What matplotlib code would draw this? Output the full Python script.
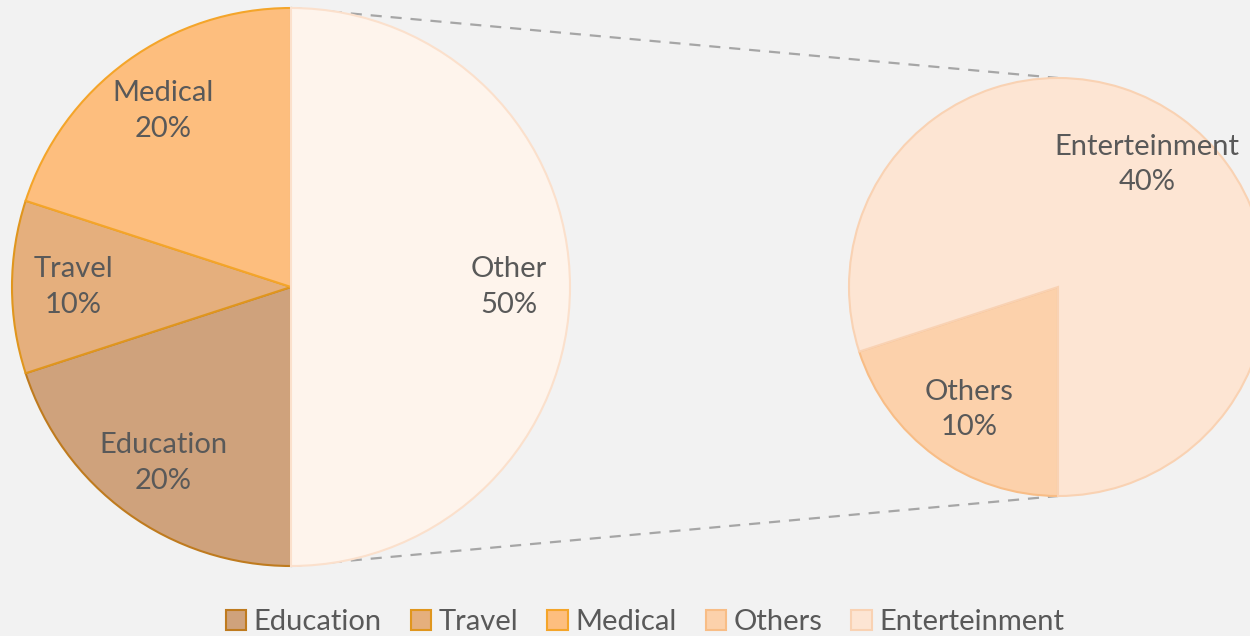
import matplotlib.pyplot as plt
from matplotlib.patches import Patch

# data
main_labels = ['Education', 'Travel', 'Medical', 'Other']
main_values = [20, 10, 20, 50]
sub_labels = ['Others', 'Enterteinment']
sub_values = [10, 40]
total = sum(main_values)

main_colors = ['#CFA27C', '#E5AF7D', '#FDBE7E', '#FEF4EC']
main_edges = ['#BF7B1F', '#E0961E', '#F4A52A', '#FBE0CC']
sub_colors = ['#FCD1AB', '#FDE5D3']
sub_edges = ['#F8BD86', '#F9D2B3']

plt.rcParams['font.family'] = ['Lato', 'DejaVu Sans']
text_color = '#595959'

fig = plt.figure(figsize=(12.5, 6.36), dpi=100, facecolor='#F2F2F2')
ax = fig.add_axes([0, 0, 1, 1])
ax.set_facecolor('#F2F2F2')

c1, r1 = (291, 349), 279
c2, r2 = (1058, 349), 209

# connector lines (behind pies)
ax.plot([c1[0], c2[0]], [c1[1] + r1, c2[1] + r2], ls=(0, (5, 4)), color='#A6A6A6', lw=1.6, zorder=0)
ax.plot([c1[0], c2[0]], [c1[1] - r1, c2[1] - r2], ls=(0, (5, 4)), color='#A6A6A6', lw=1.6, zorder=0)

tprops = dict(color=text_color, fontsize=21, linespacing=1.45)

lab1 = [f'{n}\n{v / total * 100:.0f}%' for n, v in zip(main_labels, main_values)]
w1, t1 = ax.pie(main_values, labels=lab1, colors=main_colors, startangle=270, counterclock=False,
                center=c1, radius=r1, labeldistance=0.78, frame=True,
                wedgeprops=dict(linewidth=1.5), textprops=tprops)
for w, e in zip(w1, main_edges):
    w.set_edgecolor(e)
    w.set_zorder(2)

lab2 = [f'{n}\n{v / total * 100:.0f}%' for n, v in zip(sub_labels, sub_values)]
w2, t2 = ax.pie(sub_values, labels=lab2, colors=sub_colors, startangle=270, counterclock=False,
                center=c2, radius=r2, labeldistance=0.725, frame=True,
                wedgeprops=dict(linewidth=1.5), textprops=tprops)
for w, e in zip(w2, sub_edges):
    w.set_edgecolor(e)
    w.set_zorder(2)

for t in list(t1) + list(t2):
    t.set_ha('center')
    t.set_va('center')
    t.set_zorder(3)

ax.set_xlim(0, 1250)
ax.set_ylim(0, 636)
ax.set_aspect('equal')
ax.axis('off')

handles = [Patch(facecolor=c, edgecolor=e, linewidth=1.5)
           for c, e in zip(main_colors[:3] + sub_colors, main_edges[:3] + sub_edges)]
leg_labels = main_labels[:3] + sub_labels
fig.legend(handles, leg_labels, loc='center', bbox_to_anchor=(0.516, 0.022), ncol=5,
           frameon=False, fontsize=21, labelcolor=text_color,
           handlelength=0.7, handleheight=0.7, handletextpad=0.25, columnspacing=1.0)

fig.savefig('out.png', dpi=100, facecolor=fig.get_facecolor())
